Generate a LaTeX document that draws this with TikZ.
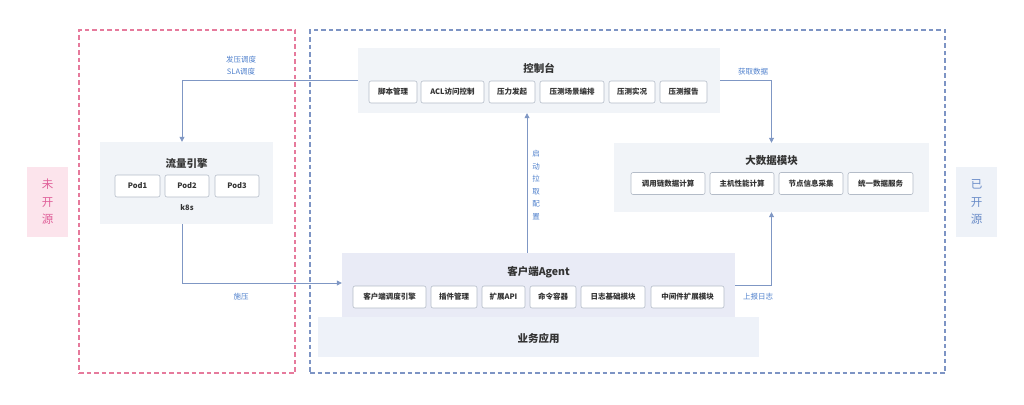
\documentclass[tikz,border=0pt]{standalone}
\usepackage{fontspec}
\setmainfont{Noto Sans CJK SC}
\usetikzlibrary{arrows.meta}
\definecolor{pinkline}{HTML}{E67A9C}
\definecolor{blueline}{HTML}{7D94C4}
\definecolor{conn}{HTML}{7F97C4}
\definecolor{lbl}{HTML}{4F80CC}
\definecolor{panelfill}{HTML}{F1F4F8}
\definecolor{agentfill}{HTML}{E9EBF6}
\definecolor{bizfill}{HTML}{EEF2F9}
\definecolor{subborder}{HTML}{B4BCC8}
\definecolor{txt}{HTML}{333333}
\definecolor{pinkfill}{HTML}{FCE4EC}
\definecolor{pinktxt}{HTML}{E0609A}
\definecolor{openfill}{HTML}{EEF2F8}
\definecolor{opentxt}{HTML}{6A8CC8}
\tikzset{
  panel/.style={fill=panelfill, draw=none, inner sep=0pt},
  sub/.style={draw=subborder, fill=white, rounded corners=2pt, line width=0.6pt, minimum height=22pt, inner sep=0pt, font=\fontsize{7.5}{8}\selectfont\bfseries, text=txt},
  ttl/.style={font=\fontsize{10.5}{12}\selectfont\bfseries, text=txt, inner sep=0pt},
  lab/.style={font=\fontsize{7.5}{9}\selectfont, text=lbl, inner sep=0pt},
  conn/.style={draw=conn, line width=0.8pt, -{Triangle[width=5pt,length=5pt]}},
  zone/.style={dash pattern=on 4.5pt off 3pt, line width=1.1pt, inner sep=0pt}
}
\begin{document}
\begin{tikzpicture}[x=1pt,y=-1pt]
\useasboundingbox (0,0) rectangle (1024,404);
% zones
\node[zone, draw=pinkline, minimum width=216pt, minimum height=343pt] (closed) at (187,201.5) {};
\node[zone, draw=blueline, minimum width=635pt, minimum height=343pt] (open) at (627.5,201.5) {};
\node[fill=pinkfill, minimum width=41pt, minimum height=70pt, inner sep=0pt, text=pinktxt, font=\fontsize{11.5}{17.5}\selectfont, align=center] (closedlab) at (47.5,202) {未\\开\\源};
\node[fill=openfill, minimum width=41pt, minimum height=70pt, inner sep=0pt, text=opentxt, font=\fontsize{11.5}{17.5}\selectfont, align=center] (openlab) at (976.5,202) {已\\开\\源};
% control console
\node[panel, minimum width=362pt, minimum height=65pt] (ctl) at (539,80.5) {};
\node[ttl] (ctlt) at (539,68) {控制台};
\node[sub, minimum width=48pt] (c1) at (393,92) {脚本管理};
\node[sub, minimum width=63pt] (c2) at (452.5,92) {ACL访问控制};
\node[sub, minimum width=46pt] (c3) at (512,92) {压力发起};
\node[sub, minimum width=64pt] (c4) at (572,92) {压测场景编排};
\node[sub, minimum width=46pt] (c5) at (632,92) {压测实况};
\node[sub, minimum width=47pt] (c6) at (683.5,92) {压测报告};
% big data
\node[panel, minimum width=315pt, minimum height=69pt] (big) at (771.5,177.5) {};
\node[ttl] (bigt) at (771.5,161) {大数据模块};
\node[sub, minimum width=74pt] (b1) at (668,183.5) {调用链数据计算};
\node[sub, minimum width=64pt] (b2) at (742,183.5) {主机性能计算};
\node[sub, minimum width=64pt] (b3) at (811,183.5) {节点信息采集};
\node[sub, minimum width=65pt] (b4) at (880.5,183.5) {统一数据服务};
% traffic engine
\node[panel, minimum width=173pt, minimum height=82pt] (eng) at (186.5,183) {};
\node[ttl] (engt) at (186.5,163) {流量引擎};
\node[sub, minimum width=45pt] (p1) at (137.5,186) {Pod1};
\node[sub, minimum width=44pt] (p2) at (187,186) {Pod2};
\node[sub, minimum width=44pt] (p3) at (237,186) {Pod3};
\node[font=\fontsize{7.5}{9}\selectfont\bfseries, text=txt, inner sep=0pt] (k8s) at (187,208) {k8s};
% business app
\node[fill=bizfill, minimum width=441pt, minimum height=40pt, inner sep=0pt] (biz) at (538.5,337) {};
\node[ttl] (bizt) at (538.5,338) {业务应用};
% agent
\node[fill=agentfill, minimum width=393pt, minimum height=64pt, inner sep=0pt] (agent) at (538.5,285) {};
\node[ttl] (agentt) at (538.5,272) {客户端Agent};
\node[sub, minimum width=73pt] (a1) at (389.5,297) {客户端调度引擎};
\node[sub, minimum width=46pt] (a2) at (454,297) {插件管理};
\node[sub, minimum width=43pt] (a3) at (503.5,297) {扩展API};
\node[sub, minimum width=46pt] (a4) at (553,297) {命令容器};
\node[sub, minimum width=64pt] (a5) at (613,297) {日志基础模块};
\node[sub, minimum width=73pt] (a6) at (687.5,297) {中间件扩展模块};
% connectors
\draw[conn] (ctl.west) -| ([xshift=-4.5pt]eng.north);
\draw[conn] (ctl.east) -| (big.north);
\draw[conn] ([xshift=-11.5pt]agent.north) -- ([xshift=-12pt]ctl.south);
\draw[conn] (agent.east) -| (big.south);
\draw[conn] ([xshift=-4.5pt]eng.south) |- ([yshift=2pt]agent.west);
% labels
\node[lab, align=center, font=\fontsize{7.5}{12}\selectfont] (l1) at (241,66) {发压调度\\SLA调度};
\node[lab] (l2) at (753,72) {获取数据};
\node[lab] (l3) at (241,297) {施压};
\node[lab] (l4) at (758,297) {上报日志};
\node[lab, align=center, font=\fontsize{7.5}{12.5}\selectfont] (l5) at (536,185) {启\\动\\拉\\取\\配\\置};
\end{tikzpicture}
\end{document}
